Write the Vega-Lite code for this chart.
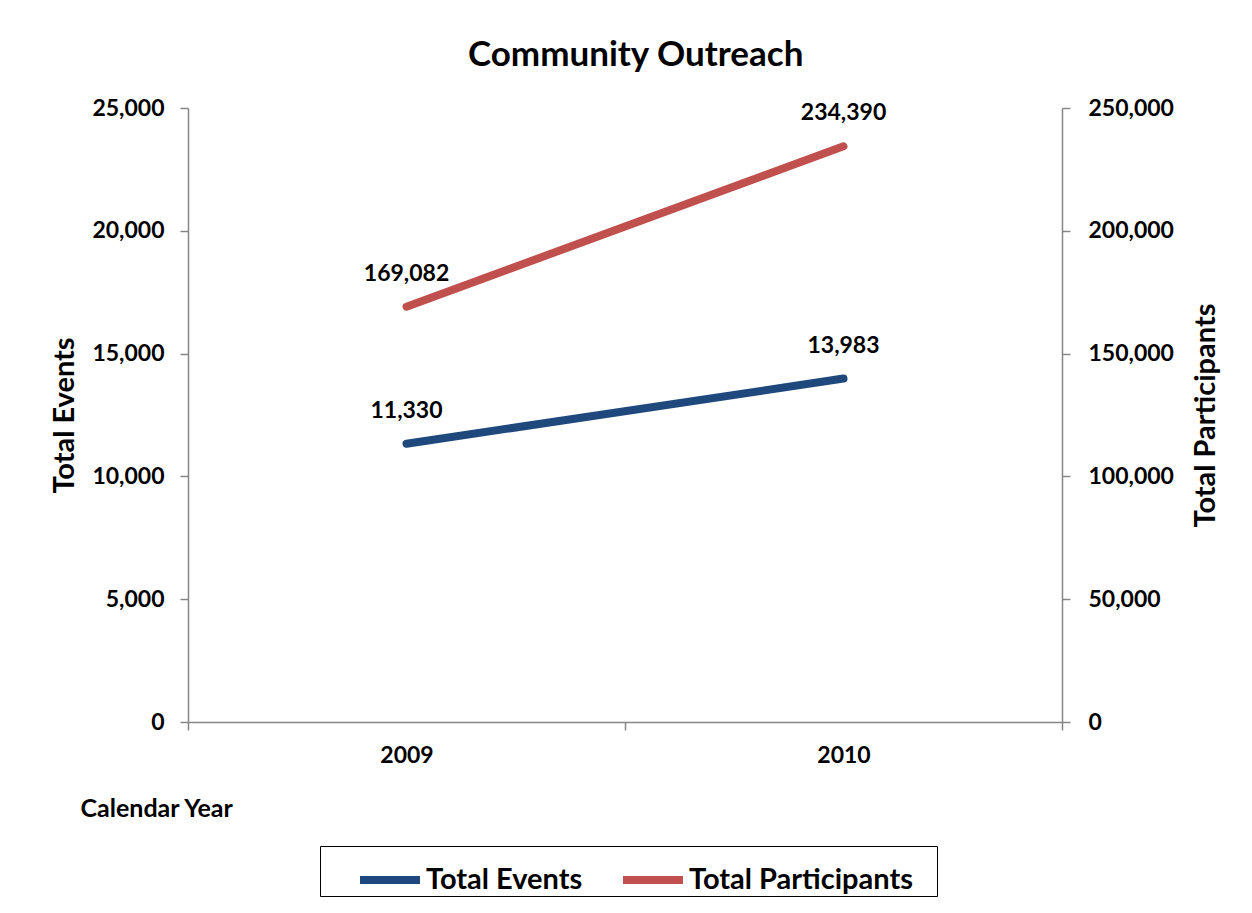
{
  "$schema": "https://vega.github.io/schema/vega-lite/v6.json",
  "width": 874,
  "height": 614,
  "autosize": {"type": "none"},
  "padding": {"left": 188, "top": 108, "right": 190, "bottom": 191},
  "background": "white",
  "config": {
    "font": "Lato",
    "view": {"stroke": null},
    "axis": {
      "labelFont": "Lato",
      "labelFontSize": 23,
      "labelFontWeight": "bold",
      "labelColor": "black",
      "titleFont": "Lato",
      "titleFontSize": 29,
      "titleFontWeight": "bold",
      "titleColor": "black",
      "domainColor": "#868686",
      "domainWidth": 1.5,
      "tickColor": "#868686",
      "tickWidth": 1.5,
      "tickSize": 8,
      "grid": false
    }
  },
  "title": {
    "text": "Community Outreach",
    "fontSize": 35,
    "fontWeight": "bold",
    "color": "black",
    "font": "Lato",
    "anchor": "middle",
    "frame": "bounds",
    "offset": 24
  },
  "data": {
    "values": [
      {"year": "2009", "series": "Total Events", "value": 11330},
      {"year": "2010", "series": "Total Events", "value": 13983},
      {"year": "2009", "series": "Total Participants", "value": 169082},
      {"year": "2010", "series": "Total Participants", "value": 234390}
    ]
  },
  "encoding": {
    "x": {
      "field": "year",
      "type": "ordinal",
      "scale": {"type": "band", "paddingInner": 0, "paddingOuter": 0},
      "axis": {
        "title": "Calendar Year",
        "labelAngle": 0,
        "labelPadding": 14,
        "tickBand": "extent",
        "titleFontSize": 25,
        "titleAnchor": "start",
        "titleAlign": "left",
        "titleBaseline": "middle",
        "titleX": -108,
        "titleY": 86
      }
    },
    "color": {
      "field": "series",
      "type": "nominal",
      "scale": {"domain": ["Total Events", "Total Participants"], "range": ["#1F497D", "#C0504D"]},
      "legend": {
        "title": " ",
        "titleOrient": "right",
        "titlePadding": 24,
        "titleFontSize": 10,
        "orient": "none",
        "direction": "horizontal",
        "legendX": 132,
        "legendY": 738,
        "symbolType": "stroke",
        "symbolStrokeWidth": 8,
        "symbolSize": 3600,
        "symbolOffset": 36,
        "labelFontSize": 29,
        "labelFontWeight": "bold",
        "labelFont": "Lato",
        "labelColor": "black",
        "labelLimit": 500,
        "labelOffset": 2,
        "columnPadding": 0,
        "padding": 0,
        "strokeColor": "black",
        "fillColor": "white"
      }
    }
  },
  "layer": [
    {
      "transform": [{"filter": "datum.series === 'Total Events'"}],
      "encoding": {
        "y": {
          "field": "value",
          "type": "quantitative",
          "scale": {"domain": [0, 25000]},
          "axis": {
            "title": "Total Events",
            "orient": "left",
            "values": [0, 5000, 10000, 15000, 20000, 25000],
            "format": ",.0f",
            "labelPadding": 16,
            "titlePadding": 12
          }
        }
      },
      "layer": [
        {"mark": {"type": "line", "strokeWidth": 8, "strokeCap": "round"}},
        {
          "mark": {"type": "text", "dy": -33, "fontSize": 23, "fontWeight": "bold", "color": "black", "font": "Lato"},
          "encoding": {"text": {"field": "value", "type": "quantitative", "format": ",.0f"}, "color": {"value": "black"}}
        }
      ]
    },
    {
      "transform": [{"filter": "datum.series === 'Total Participants'"}],
      "encoding": {
        "y": {
          "field": "value",
          "type": "quantitative",
          "scale": {"domain": [0, 250000]},
          "axis": {
            "title": "Total Participants",
            "orient": "right",
            "values": [0, 50000, 100000, 150000, 200000, 250000],
            "format": ",.0f",
            "labelPadding": 18,
            "titlePadding": 18,
            "titleAngle": -90,
            "titleBaseline": "top"
          }
        }
      },
      "layer": [
        {"mark": {"type": "line", "strokeWidth": 8, "strokeCap": "round"}},
        {
          "mark": {"type": "text", "dy": -33, "fontSize": 23, "fontWeight": "bold", "color": "black", "font": "Lato"},
          "encoding": {"text": {"field": "value", "type": "quantitative", "format": ",.0f"}, "color": {"value": "black"}}
        }
      ]
    }
  ],
  "resolve": {"scale": {"y": "independent"}}
}
